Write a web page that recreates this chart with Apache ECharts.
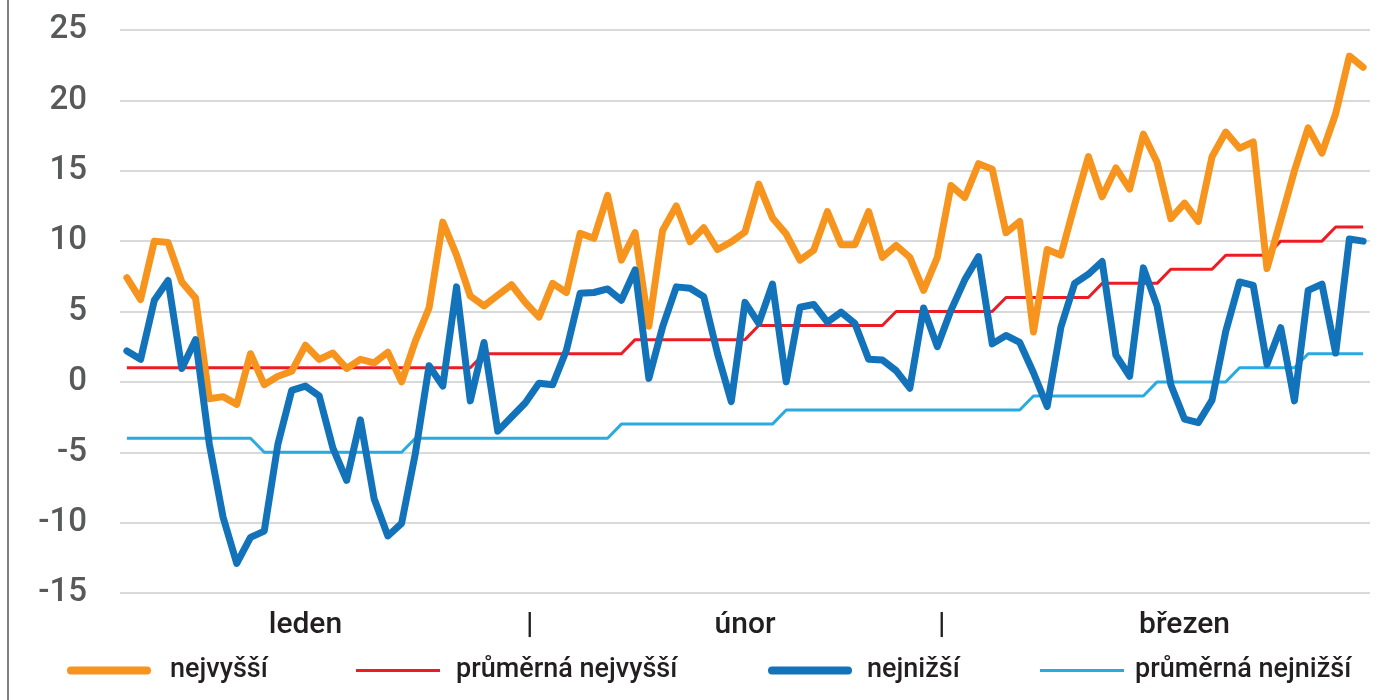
<!DOCTYPE html>
<html>
<head>
<meta charset="utf-8">
<script src="https://cdn.jsdelivr.net/npm/echarts@6/dist/echarts.min.js"></script>
<style>html,body{margin:0;padding:0;background:#fff}#c{width:1400px;height:700px}</style>
</head>
<body>
<div id="c"></div>
<script>
// Days of January–March (leap year): 91 categories
const monthLengths = [31, 29, 31];
const days = [];
monthLengths.forEach((len, m) => { for (let d = 1; d <= len; d++) days.push(d + '.' + (m + 1) + '.'); });

// Tick labels shown under the category axis (by category index)
const xTickLabels = {13: 'leden', 29: '|', 45: 'únor', 59: '|', 77: 'březen'};

const yMin = -15, yMax = 25, yInterval = 5;

const nejvyssi = [7.4, 5.85, 10.0, 9.9, 7.1, 5.95, -1.2, -1.05, -1.6, 2.0,
  -0.2, 0.4, 0.75, 2.6, 1.6, 2.05, 0.95, 1.6, 1.35, 2.1,
  0.0, 2.9, 5.25, 11.35, 9.0, 6.1, 5.4, 6.15, 6.9, 5.65,
  4.6, 7.0, 6.35, 10.55, 10.2, 13.25, 8.65, 10.6, 3.95, 10.75,
  12.5, 9.95, 10.95, 9.4, 9.95, 10.65, 14.05, 11.65, 10.5, 8.65,
  9.35, 12.1, 9.75, 9.75, 12.1, 8.85, 9.7, 8.85, 6.5, 8.85,
  13.95, 13.1, 15.5, 15.1, 10.6, 11.4, 3.55, 9.4, 9.0, 12.6,
  16.0, 13.15, 15.2, 13.7, 17.6, 15.6, 11.6, 12.7, 11.4, 16.0,
  17.75, 16.6, 17.05, 8.05, 11.5, 15.0, 18.05, 16.25, 19.05, 23.15,
  22.35];

const prumernaNejvyssi = [1, 1, 1, 1, 1, 1, 1, 1, 1, 1,
  1, 1, 1, 1, 1, 1, 1, 1, 1, 1,
  1, 1, 1, 1, 1, 1, 2, 2, 2, 2,
  2, 2, 2, 2, 2, 2, 2, 3, 3, 3,
  3, 3, 3, 3, 3, 3, 4, 4, 4, 4,
  4, 4, 4, 4, 4, 4, 5, 5, 5, 5,
  5, 5, 5, 5, 6, 6, 6, 6, 6, 6,
  6, 7, 7, 7, 7, 7, 8, 8, 8, 8,
  9, 9, 9, 9, 10, 10, 10, 10, 11, 11,
  11];

const nejnizsi = [2.2, 1.6, 5.8, 7.2, 0.95, 3.0, -4.4, -9.6, -12.9, -11.05,
  -10.6, -4.4, -0.6, -0.3, -1.0, -4.7, -7.0, -2.7, -8.3, -10.95,
  -10.05, -5.1, 1.15, -0.3, 6.75, -1.35, 2.8, -3.5, -2.5, -1.5,
  -0.1, -0.2, 2.25, 6.3, 6.35, 6.6, 5.8, 7.95, 0.25, 3.9,
  6.75, 6.65, 6.05, 2.0, -1.4, 5.65, 4.15, 6.95, 0.0, 5.3,
  5.5, 4.25, 4.95, 4.15, 1.6, 1.55, 0.8, -0.45, 5.25, 2.5,
  5.1, 7.25, 8.9, 2.7, 3.3, 2.8, 0.65, -1.75, 3.9, 7.0,
  7.65, 8.55, 1.9, 0.4, 8.1, 5.4, -0.2, -2.65, -2.9, -1.3,
  3.6, 7.1, 6.85, 1.25, 3.85, -1.35, 6.5, 6.95, 2.05, 10.15,
  10.0];

const prumernaNejnizsi = [-4, -4, -4, -4, -4, -4, -4, -4, -4, -4,
  -5, -5, -5, -5, -5, -5, -5, -5, -5, -5,
  -5, -4, -4, -4, -4, -4, -4, -4, -4, -4,
  -4, -4, -4, -4, -4, -4, -3, -3, -3, -3,
  -3, -3, -3, -3, -3, -3, -3, -3, -2, -2,
  -2, -2, -2, -2, -2, -2, -2, -2, -2, -2,
  -2, -2, -2, -2, -2, -2, -1, -1, -1, -1,
  -1, -1, -1, -1, -1, 0, 0, 0, 0, 0,
  0, 1, 1, 1, 1, 1, 2, 2, 2, 2,
  2];

const seriesNames = ['nejvyšší', 'průměrná nejvyšší', 'nejnižší', 'průměrná nejnižší'];
const colors = ['#F7941D', '#ED1C24', '#1273BA', '#29ABE2'];

const FONT = 'Roboto';
const chart = echarts.init(document.getElementById('c'), null, {renderer: 'canvas'});

const legendPos = [67, 356, 768, 1040];
const legendTextGap = [14, 11, 10, 6];
const legendLineH = [8, 3, 8, 3];
const thickIcon = 'path://M4,0 H80 A4,4 0 0 1 80,8 H4 A4,4 0 0 1 4,0 Z';

chart.setOption({
  animation: false,
  backgroundColor: '#ffffff',
  graphic: [{
    type: 'line', shape: {x1: 8, y1: 0, x2: 8, y2: 700},
    style: {stroke: '#808080', lineWidth: 2}, silent: true
  }],
  grid: {left: 120, right: 30, top: 30, bottom: 107, containLabel: false},
  legend: seriesNames.map((n, i) => ({
    data: [n],
    left: legendPos[i],
    top: 657,
    padding: 0,
    icon: legendLineH[i] > 4 ? thickIcon : 'rect',
    itemWidth: 84,
    itemHeight: legendLineH[i],
    selectedMode: false,
    itemStyle: {color: colors[i]},
    textStyle: {fontFamily: FONT, fontWeight: 500, fontSize: 27, color: '#231F20', padding: [0, 0, 0, legendTextGap[i]]}
  })),
  xAxis: {
    type: 'category',
    data: days,
    boundaryGap: true,
    axisLine: {show: false},
    axisTick: {show: false},
    splitLine: {show: false},
    axisLabel: {
      interval: 0,
      margin: 17,
      fontFamily: FONT,
      fontWeight: 500,
      fontSize: 30,
      color: '#231F20',
      formatter: (v, i) => {
        const t = xTickLabels[i];
        if (!t) return '';
        return t === '|' ? '{sep|' + t + '}' : t;
      },
      rich: {sep: {fontFamily: FONT, fontWeight: 500, fontSize: 30, color: '#231F20', padding: [0, 0, 0, 9]}}
    }
  },
  yAxis: {
    type: 'value',
    min: yMin, max: yMax, interval: yInterval,
    axisLine: {show: false},
    axisTick: {show: false},
    axisLabel: {fontFamily: FONT, fontWeight: 500, fontSize: 33, color: '#58595B', margin: 33},
    splitLine: {lineStyle: {color: '#D9D9D9', width: 2}}
  },
  series: [
    {name: seriesNames[1], type: 'line', data: prumernaNejvyssi, symbol: 'none', z: 2,
     lineStyle: {color: colors[1], width: 3}, itemStyle: {color: colors[1]}},
    {name: seriesNames[3], type: 'line', data: prumernaNejnizsi, symbol: 'none', z: 2,
     lineStyle: {color: colors[3], width: 3}, itemStyle: {color: colors[3]}},
    {name: seriesNames[0], type: 'line', data: nejvyssi, symbol: 'none', z: 3,
     lineStyle: {color: colors[0], width: 7, cap: 'round', join: 'round'}, itemStyle: {color: colors[0]}},
    {name: seriesNames[2], type: 'line', data: nejnizsi, symbol: 'none', z: 4,
     lineStyle: {color: colors[2], width: 7, cap: 'round', join: 'round'}, itemStyle: {color: colors[2]}}
  ]
});
</script>
</body>
</html>
